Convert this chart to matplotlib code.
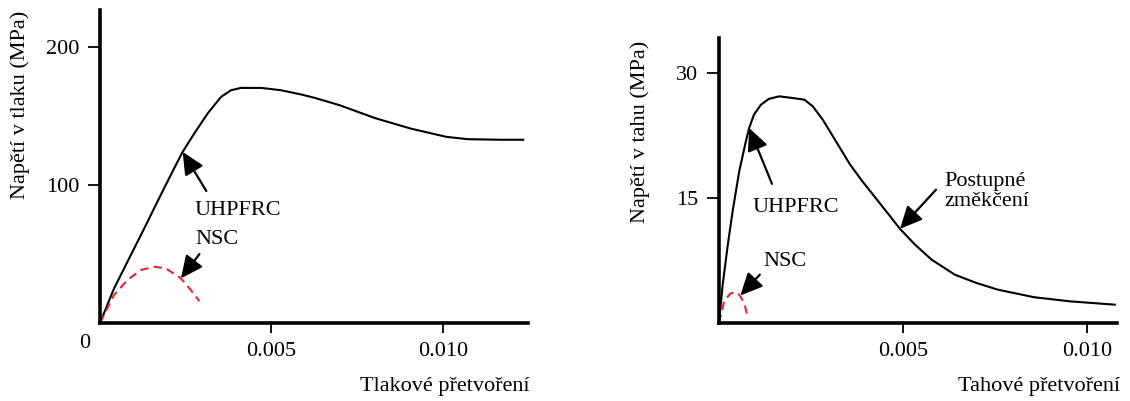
import matplotlib.pyplot as plt

plt.rcParams['font.family'] = ['Liberation Serif', 'DejaVu Serif']
plt.rcParams['font.size'] = 16

# tlak (compression)
tlak_uhpfrc_x = [0, 0.00041, 0.0008, 0.00129, 0.00177, 0.00216, 0.00241, 0.00275, 0.00314, 0.00353,
                 0.00382, 0.00411, 0.0047, 0.00528, 0.00587, 0.00626, 0.00698, 0.00802, 0.00906,
                 0.0101, 0.01073, 0.01167, 0.01234]
tlak_uhpfrc_y = [0, 25.1, 44.4, 68.6, 92.8, 112.1, 124.1, 137.5, 152, 164,
                 168.8, 170.5, 170.5, 168.8, 165.7, 163.3, 158, 148.6, 141,
                 135, 133.3, 132.9, 132.9]
tlak_nsc_x = [0, 0.00041, 0.0008, 0.00119, 0.00158, 0.00192, 0.00236, 0.00265, 0.0029]
tlak_nsc_y = [0, 20.3, 31.2, 38.4, 40.8, 39.6, 32.4, 23.9, 15.9]

# tah (tension)
tah_uhpfrc_x = [0, 0.0001, 0.00024, 0.00037, 0.00055, 0.00073, 0.00082, 0.00095, 0.00114, 0.00136,
                0.00164, 0.002, 0.00232, 0.00255, 0.00282, 0.00318, 0.00355, 0.00388, 0.00424,
                0.0046, 0.00492, 0.00533, 0.00578, 0.00641, 0.0070, 0.00758, 0.00856, 0.00954, 0.01076]
tah_uhpfrc_y = [0, 4.6, 9.4, 13.4, 18.2, 21.8, 23.4, 25.0, 26.2, 26.9,
                27.2, 27.0, 26.8, 26.0, 24.4, 21.8, 19.1, 17.1, 15.1,
                13.1, 11.3, 9.4, 7.6, 5.8, 4.8, 4.0, 3.1, 2.6, 2.2]
tah_nsc_x = [0, 0.00014, 0.0003, 0.00042, 0.00055, 0.00066, 0.00072, 0.00077]
tah_nsc_y = [0, 2.6, 3.5, 3.7, 3.4, 2.6, 1.8, 0.9]

W, H = 1130, 401
fig = plt.figure(figsize=(W / 100, H / 100), dpi=100)

ax1 = fig.add_axes([100 / W, 1 - 323 / H, 428 / W, 313 / H])
ax2 = fig.add_axes([719 / W, 1 - 323 / H, 398 / W, 285 / H])

red = '#e8242c'
arrow = dict(arrowstyle='-|>,head_length=0.85,head_width=0.4', color='black', lw=1.6,
             shrinkA=0, shrinkB=0)

for ax in (ax1, ax2):
    for s in ('top', 'right'):
        ax.spines[s].set_visible(False)
    for s in ('left', 'bottom'):
        ax.spines[s].set_linewidth(2.6)
    ax.tick_params(axis='y', length=9, width=1.3, pad=6)
    ax.tick_params(axis='x', length=7, width=1.3, pad=7)

# levy graf
ax1.plot(tlak_uhpfrc_x, tlak_uhpfrc_y, color='black', lw=1.5)
ax1.plot(tlak_nsc_x, tlak_nsc_y, color=red, lw=1.5, ls=(0, (4, 2.5)))
ax1.set_xlim(0, 0.01248)
ax1.set_ylim(0, 227)
ax1.set_xticks([0.005, 0.010])
ax1.set_xticklabels(['0.005', '0.010'])
ax1.set_yticks([100, 200])
ax1.annotate('', xy=(0.00241, 124.1), xytext=(0.0031, 95.7), arrowprops=arrow)
ax1.text(0.00275, 81.9, 'UHPFRC', ha='left', va='center')
ax1.annotate('', xy=(0.00236, 32.4), xytext=(0.0029, 50), arrowprops=arrow)
ax1.text(0.00278, 60.9, 'NSC', ha='left', va='center')

# pravy graf
ax2.plot(tah_uhpfrc_x, tah_uhpfrc_y, color='black', lw=1.5)
ax2.plot(tah_nsc_x, tah_nsc_y, color=red, lw=1.5, ls=(0, (4, 2.5)))
ax2.set_xlim(0, 0.01082)
ax2.set_ylim(0, 34.2)
ax2.set_xticks([0.005, 0.010])
ax2.set_xticklabels(['0.005', '0.010'])
ax2.set_yticks([15, 30])
ax2.annotate('', xy=(0.00082, 23.4), xytext=(0.00144, 16.7), arrowprops=arrow)
ax2.text(0.0009, 13.9, 'UHPFRC', ha='left', va='center')
ax2.annotate('', xy=(0.00058, 3.3), xytext=(0.00111, 5.8), arrowprops=arrow)
ax2.text(0.0012, 7.4, 'NSC', ha='left', va='center')
ax2.annotate('', xy=(0.00492, 11.3), xytext=(0.0059, 16.0), arrowprops=arrow)
ax2.text(0.00614, 15.8, 'Postupné\nzměkčení', ha='left', va='center', linespacing=1.1)

# popisky os
fig.text(20 / W, 1 - 105 / H, 'Napětí v tlaku (MPa)', rotation=90, ha='center', va='center')
fig.text(640 / W, 1 - 132 / H, 'Napětí v tahu (MPa)', rotation=90, ha='center', va='center')
fig.text(530 / W, 1 - 387 / H, 'Tlakové přetvoření', ha='right', va='center')
fig.text(1120 / W, 1 - 387 / H, 'Tahové přetvoření', ha='right', va='center')
fig.text(85 / W, 1 - 343 / H, '0', ha='center', va='center')

fig.savefig('out.png', dpi=100)
